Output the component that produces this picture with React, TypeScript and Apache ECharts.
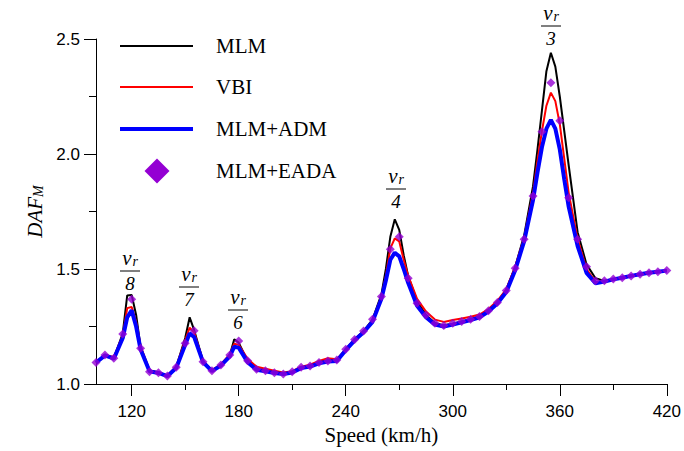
import React, { useEffect, useRef } from "react";
import * as echarts from "echarts";

const speeds = [100,105,110,115,117.5,120,122.5,125,130,135,140,145,150,152.5,155,160,165,170,175,177.5,180,185,190,195,200,205,210,215,220,225,230,235,240,245,250,255,260,262.5,265,267.5,270,272.5,275,280,285,290,295,300,305,310,315,320,325,330,335,340,345,347.5,350,352.5,355,357.5,360,362.5,365,370,375,380,385,390,395,400,405,410,415,420];

const mlm = [1.092,1.128,1.112,1.22,1.385,1.387,1.30,1.16,1.058,1.05,1.035,1.075,1.2,1.29,1.235,1.1,1.058,1.083,1.125,1.194,1.18,1.1,1.065,1.058,1.05,1.045,1.052,1.07,1.078,1.093,1.105,1.105,1.15,1.195,1.23,1.28,1.39,1.5,1.64,1.716,1.67,1.56,1.47,1.36,1.3,1.265,1.255,1.262,1.272,1.282,1.295,1.32,1.355,1.41,1.51,1.645,1.86,2.02,2.19,2.36,2.44,2.38,2.25,2.1,1.95,1.66,1.52,1.46,1.448,1.456,1.462,1.47,1.477,1.484,1.488,1.493];

const vbi = [1.093,1.126,1.118,1.21,1.33,1.335,1.27,1.165,1.06,1.05,1.037,1.076,1.19,1.245,1.225,1.1,1.06,1.085,1.13,1.175,1.17,1.11,1.075,1.066,1.058,1.05,1.056,1.075,1.084,1.1,1.112,1.108,1.15,1.195,1.228,1.275,1.38,1.47,1.59,1.633,1.62,1.54,1.47,1.37,1.315,1.28,1.27,1.278,1.285,1.292,1.302,1.326,1.362,1.412,1.51,1.635,1.83,1.97,2.1,2.21,2.267,2.23,2.13,1.98,1.83,1.63,1.5,1.445,1.446,1.456,1.462,1.47,1.477,1.484,1.488,1.493];

const mlmAdm = [1.093,1.124,1.11,1.2,1.29,1.32,1.25,1.15,1.055,1.048,1.034,1.07,1.17,1.22,1.205,1.095,1.056,1.08,1.12,1.162,1.158,1.095,1.062,1.055,1.048,1.043,1.05,1.069,1.076,1.09,1.098,1.1,1.147,1.19,1.225,1.27,1.37,1.45,1.54,1.571,1.555,1.5,1.44,1.34,1.29,1.258,1.25,1.258,1.268,1.278,1.29,1.315,1.35,1.4,1.495,1.62,1.8,1.92,2.03,2.11,2.148,2.11,2.02,1.89,1.77,1.6,1.483,1.438,1.445,1.455,1.462,1.47,1.477,1.484,1.488,1.493];

const eadaSpeeds = [100,105,110,115,120,125,130,135,140,145,150,155,160,165,170,175,180,185,190,195,200,205,210,215,220,225,230,235,240,245,250,255,260,265,270,275,280,285,290,295,300,305,310,315,320,325,330,335,340,345,350,355,360,365,370,375,380,385,390,395,400,405,410,415,420];

const mlmEada = [1.093,1.126,1.112,1.217,1.368,1.155,1.053,1.049,1.035,1.073,1.177,1.232,1.097,1.058,1.083,1.126,1.187,1.101,1.064,1.058,1.049,1.043,1.053,1.073,1.078,1.093,1.1,1.104,1.151,1.194,1.23,1.281,1.38,1.586,1.64,1.46,1.351,1.3,1.264,1.254,1.264,1.272,1.282,1.293,1.319,1.354,1.406,1.503,1.629,1.817,2.097,2.31,2.145,1.81,1.629,1.51,1.449,1.449,1.457,1.462,1.47,1.477,1.484,1.488,1.493];

const xMajorTicks = [120, 180, 240, 300, 360, 420];
const xMinorTicks = [150, 210, 270, 330, 390];
const seriesNames = ["MLM", "VBI", "MLM+ADM", "MLM+EADA"];
const peakDivisors = ["8", "7", "6", "4", "3"];

const SERIF = "Liberation Serif";
const SANS = "Liberation Sans";
const PURPLE = "#9400D3";

function pairs(xs: number[], ys: number[]) {
  return xs.map((x, i) => [x, ys[i]]);
}

export default function App() {
  const ref = useRef<HTMLDivElement>(null);
  useEffect(() => {
    document.body.style.margin = "0";
    const chart = echarts.init(ref.current!, null, { renderer: "svg" });

    // annotation anchor pixels (center x, fraction line y)
    const annPos = [
      [130, 271],
      [189, 287],
      [238, 310],
      [396, 189],
      [551, 26],
    ];
    const annotations: any[] = [];
    peakDivisors.forEach((d, i) => {
      const [cx, ly] = annPos[i];
      annotations.push({
        type: "text",
        x: cx,
        y: ly - 3,
        style: {
          text: "{v|v}{r|r}",
          align: "center",
          verticalAlign: "bottom",
          rich: {
            v: { fontFamily: SERIF, fontStyle: "italic", fontSize: 21, fill: "#000", verticalAlign: "top" },
            r: { fontFamily: SERIF, fontStyle: "italic", fontSize: 14, fill: "#000", verticalAlign: "bottom", padding: [0, 0, 0, 1] },
          },
        },
      });
      annotations.push({
        type: "line",
        shape: { x1: cx - 10, y1: ly, x2: cx + 10, y2: ly },
        style: { stroke: "#000", lineWidth: 1 },
      });
      annotations.push({
        type: "text",
        x: cx,
        y: ly + 3,
        style: {
          text: d,
          align: "center",
          verticalAlign: "top",
          fontFamily: SERIF,
          fontStyle: "italic",
          fontSize: 19,
          fill: "#000",
        },
      });
    });

    const legendRows = [
      { y: 46, color: "#000", width: 2 },
      { y: 87, color: "#ff0000", width: 2 },
      { y: 129, color: "#0000ff", width: 4 },
      { y: 171, color: PURPLE, width: 0 },
    ];
    const legend: any[] = [];
    legendRows.forEach((r, i) => {
      if (r.width > 0) {
        legend.push({
          type: "line",
          shape: { x1: 120, y1: r.y, x2: 193, y2: r.y },
          style: { stroke: r.color, lineWidth: r.width },
        });
      } else {
        legend.push({
          type: "polygon",
          shape: { points: [[157, r.y - 12.5], [169.5, r.y], [157, r.y + 12.5], [144.5, r.y]] },
          style: { fill: r.color },
        });
      }
      legend.push({
        type: "text",
        x: 216,
        y: r.y,
        style: {
          text: seriesNames[i],
          fontFamily: SERIF,
          fontSize: 21,
          fill: "#000",
          verticalAlign: "middle",
          align: "left",
        },
      });
    });

    chart.setOption({
      animation: false,
      backgroundColor: "#fff",
      grid: { left: 96, right: 17, top: 39, bottom: 67, containLabel: false },
      xAxis: [
        {
          type: "value",
          min: 100,
          max: 420,
          name: "Speed (km/h)",
          nameLocation: "middle",
          nameGap: 38,
          nameTextStyle: { fontFamily: SERIF, fontSize: 21, color: "#000" },
          axisLine: { show: true, lineStyle: { color: "#000", width: 1 } },
          axisTick: { show: true, inside: false, length: 12, customValues: xMajorTicks, lineStyle: { color: "#000" } },
          axisLabel: { show: true, customValues: xMajorTicks, margin: 19, fontFamily: SANS, fontSize: 17, color: "#000" },
          splitLine: { show: false },
        },
        {
          type: "value",
          min: 100,
          max: 420,
          position: "bottom",
          axisLine: { show: false },
          axisTick: { show: true, inside: false, length: 6, customValues: xMinorTicks, lineStyle: { color: "#000" } },
          axisLabel: { show: false },
          splitLine: { show: false },
        },
      ],
      yAxis: {
        type: "value",
        min: 1.0,
        max: 2.5,
        interval: 0.5,
        name: "{a|DAF}{b|M}",
        nameLocation: "middle",
        nameGap: 50,
        nameRotate: 90,
        nameTextStyle: {
          rich: {
            a: { fontFamily: SERIF, fontStyle: "italic", fontSize: 21, color: "#000", verticalAlign: "top" },
            b: { fontFamily: SERIF, fontStyle: "italic", fontSize: 14, color: "#000", verticalAlign: "bottom" },
          },
        },
        axisLine: { show: true, lineStyle: { color: "#000", width: 1 } },
        axisTick: { show: true, inside: false, length: 12, lineStyle: { color: "#000" } },
        minorTick: { show: true, splitNumber: 2, length: 7, lineStyle: { color: "#000" } },
        axisLabel: {
          margin: 16,
          fontFamily: SANS,
          fontSize: 17,
          color: "#000",
          formatter: (v: number) => v.toFixed(1),
        },
        splitLine: { show: false },
        minorSplitLine: { show: false },
      },
      series: [
        {
          name: seriesNames[0],
          type: "line",
          data: pairs(speeds, mlm),
          symbol: "none",
          lineStyle: { color: "#000", width: 2 },
          z: 2,
        },
        {
          name: seriesNames[1],
          type: "line",
          data: pairs(speeds, vbi),
          symbol: "none",
          lineStyle: { color: "#ff0000", width: 2 },
          z: 3,
        },
        {
          name: seriesNames[2],
          type: "line",
          data: pairs(speeds, mlmAdm),
          symbol: "none",
          lineStyle: { color: "#0000ff", width: 4 },
          z: 4,
        },
        {
          name: seriesNames[3],
          type: "scatter",
          data: pairs(eadaSpeeds, mlmEada),
          symbol: "diamond",
          symbolSize: 9,
          itemStyle: { color: PURPLE },
          z: 5,
        },
      ],
      graphic: [...legend, ...annotations],
    });
    return () => chart.dispose();
  }, []);
  return <div ref={ref} style={{ width: 684, height: 451 }} />;
}
